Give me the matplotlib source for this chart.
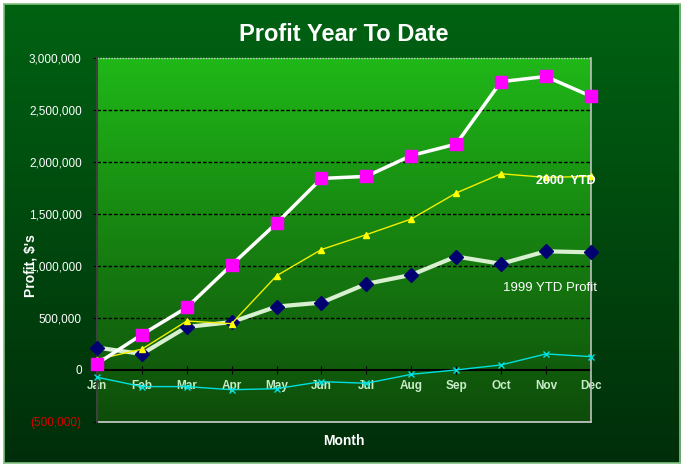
import numpy as np
import matplotlib
matplotlib.use('Agg')
from matplotlib import pyplot as plt

months = ['Jan', 'Feb', 'Mar', 'Apr', 'May', 'Jun', 'Jul', 'Aug', 'Sep', 'Oct', 'Nov', 'Dec']
ytd_2000_total = [60000, 340000, 600000, 1010000, 1410000, 1840000, 1860000, 2060000, 2170000, 2770000, 2820000, 2630000]
ytd_2000 = [100000, 200000, 470000, 445000, 905000, 1157000, 1300000, 1450000, 1700000, 1885000, 1850000, 1860000]
ytd_1999 = [215000, 154000, 413000, 460000, 609000, 647000, 827000, 913000, 1090000, 1020000, 1140000, 1130000]
diff = [-70000, -160000, -160000, -190000, -180000, -112000, -128000, -42000, 0, 48000, 154000, 128000]
yticks = [-500000, 0, 500000, 1000000, 1500000, 2000000, 2500000, 3000000]

plt.rcParams['font.family'] = ['Liberation Sans', 'DejaVu Sans']

fig = plt.figure(figsize=(6.83, 4.67), dpi=100)
fig.patch.set_facecolor('white')

# figure background gradient
bg = fig.add_axes([0.006, 0.009, 0.99, 0.982], zorder=-10)
grad = np.linspace(0, 1, 256).reshape(-1, 1)
top = np.array([0x00, 0x62, 0x12]) / 255.0
bot = np.array([0x00, 0x2e, 0x0a]) / 255.0
img = top + (bot - top) * grad[..., None]
bg.imshow(img, aspect='auto', extent=[0, 1, 0, 1])
bg.set_xticks([]); bg.set_yticks([])
for s in bg.spines.values():
    s.set_color('#7fc07f')
    s.set_linewidth(1.2)

ax = fig.add_axes([0.142, 0.0964, 0.723, 0.780])
x = np.arange(len(months))
ax.set_xlim(0, len(months) - 1)
ax.set_ylim(-500000, 3000000)

# plot area gradient
atop = np.array([0x20, 0xb8, 0x18]) / 255.0
abot = np.array([0x0e, 0x4c, 0x0a]) / 255.0
aimg = atop + (abot - atop) * grad[..., None]
ax.imshow(aimg, aspect='auto', extent=[0, len(months) - 1, -500000, 3000000], zorder=0)

for v in yticks[2:-1]:
    ax.axhline(v, color='black', lw=1, ls=(0, (2.5, 1.5)), zorder=1)
ax.axhline(3000000, color='#d0d0d0', lw=1, ls=(0, (1, 1)), zorder=1, clip_on=False)
ax.axhline(-500000, color='#d0d0d0', lw=1.2, zorder=1, clip_on=False)

ax.plot(x, diff, color='#00e0e0', lw=1, marker='x', ms=4, mew=1, zorder=3, clip_on=False)
ax.plot(x, ytd_1999, color='#d8f0d0', lw=3, marker='D', ms=7, mfc='#000070', mec='#000070', zorder=4, clip_on=False)
ax.plot(x, ytd_2000, color='#f0f000', lw=1, marker='^', ms=5, mfc='#ffff00', mec='#ffff00', zorder=5, clip_on=False)
ax.plot(x, ytd_2000_total, color='white', lw=2.5, marker='s', ms=9, mfc='#ff00ff', mec='#ff00ff', zorder=6, clip_on=False)

ax.text(10.45, 1820000, '2000  YTD', color='white', fontsize=9, fontweight='bold', va='center', ha='center', zorder=7)
ax.text(10.1, 790000, '1999 YTD Profit', color='white', fontsize=9.5, va='center', ha='center', zorder=7)

ax.spines['bottom'].set_position(('data', 0))
ax.spines['bottom'].set_color('black')
ax.spines['bottom'].set_linewidth(1.5)
ax.spines['bottom'].set_zorder(2)
ax.spines['top'].set_visible(False)
ax.spines['left'].set_color('#404040')
ax.spines['left'].set_linewidth(1.5)
ax.spines['right'].set_color('#c0c0c0')
ax.spines['right'].set_linewidth(1.2)

ax.set_xticks(x)
ax.set_xticklabels(months, fontsize=8.5, fontweight='bold', color='#c8ecc8')
ax.tick_params(axis='x', direction='inout', length=6, color='black', pad=4)
ax.set_yticks(yticks)
labels = ['({:,})'.format(-v) if v < 0 else '{:,}'.format(v) for v in yticks]
ax.set_yticklabels(labels, fontsize=8.5, color='white')
ax.get_yticklabels()[0].set_color('#e00000')
ax.tick_params(axis='y', length=3, color='black', pad=8)

ax.set_title('Profit Year To Date', color='white', fontsize=17, fontweight='bold', pad=12)
ax.set_ylabel("Profit, $'s", color='white', fontsize=10, fontweight='bold', va='center')
ax.yaxis.set_label_coords(-0.135, 0.43)
ax.set_xlabel('Month', color='white', fontsize=10, fontweight='bold', va='center')
ax.xaxis.set_label_coords(0.5, -0.052)

fig.savefig('out.png', dpi=100, facecolor='white')
